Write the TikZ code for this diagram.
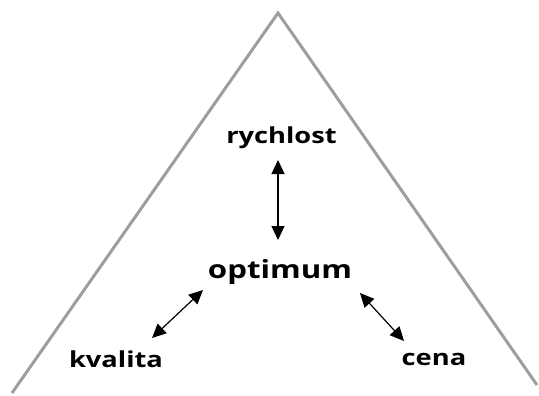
\documentclass[tikz,border=0pt]{standalone}
\usepackage{fontspec}
\usepackage{graphicx}
\setmainfont{Open Sans}
\usetikzlibrary{arrows.meta}
\definecolor{edgegray}{HTML}{9E9E9E}
\newcommand{\wide}[2]{\scalebox{#1}[1]{#2}}
\tikzset{
  label/.style={font=\bfseries\fontsize{22}{26}\selectfont, text=black, inner sep=0pt, anchor=base},
  biarrow/.style={{Triangle[length=14pt,width=13pt]}-{Triangle[length=14pt,width=13pt]}, line width=1.2pt, black},
  edge/.style={draw=edgegray, line width=3pt, line join=miter}
}
\begin{document}
\begin{tikzpicture}[x=1pt,y=-1pt]
  \useasboundingbox (0,0) rectangle (539,396);
  % pyramid outline
  \coordinate (apex) at (278,13);
  \coordinate (bl) at (12,393);
  \coordinate (br) at (537,385);
  \draw[edge] (bl) -- (apex) -- (br);
  % labels, placed on their baselines
  \node[label] (speed) at (281.5,143) {\wide{1.24}{rychlost}};
  \node[label, font=\bfseries\fontsize{25}{30}\selectfont] (opt) at (280,278) {\wide{1.25}{optimum}};
  \node[label] (qual) at (116,367) {\wide{1.24}{kvalita}};
  \node[label] (price) at (434,365.5) {\wide{1.24}{cena}};
  % connector end points
  \coordinate (s1) at (278,160);
  \coordinate (s2) at (278,240);
  \coordinate (q1) at (203,290);
  \coordinate (q2) at (152,338);
  \coordinate (p1) at (360,293);
  \coordinate (p2) at (404,341);
  \draw[biarrow] (s1) -- (s2);
  \draw[biarrow] (q1) -- (q2);
  \draw[biarrow] (p1) -- (p2);
\end{tikzpicture}
\end{document}
